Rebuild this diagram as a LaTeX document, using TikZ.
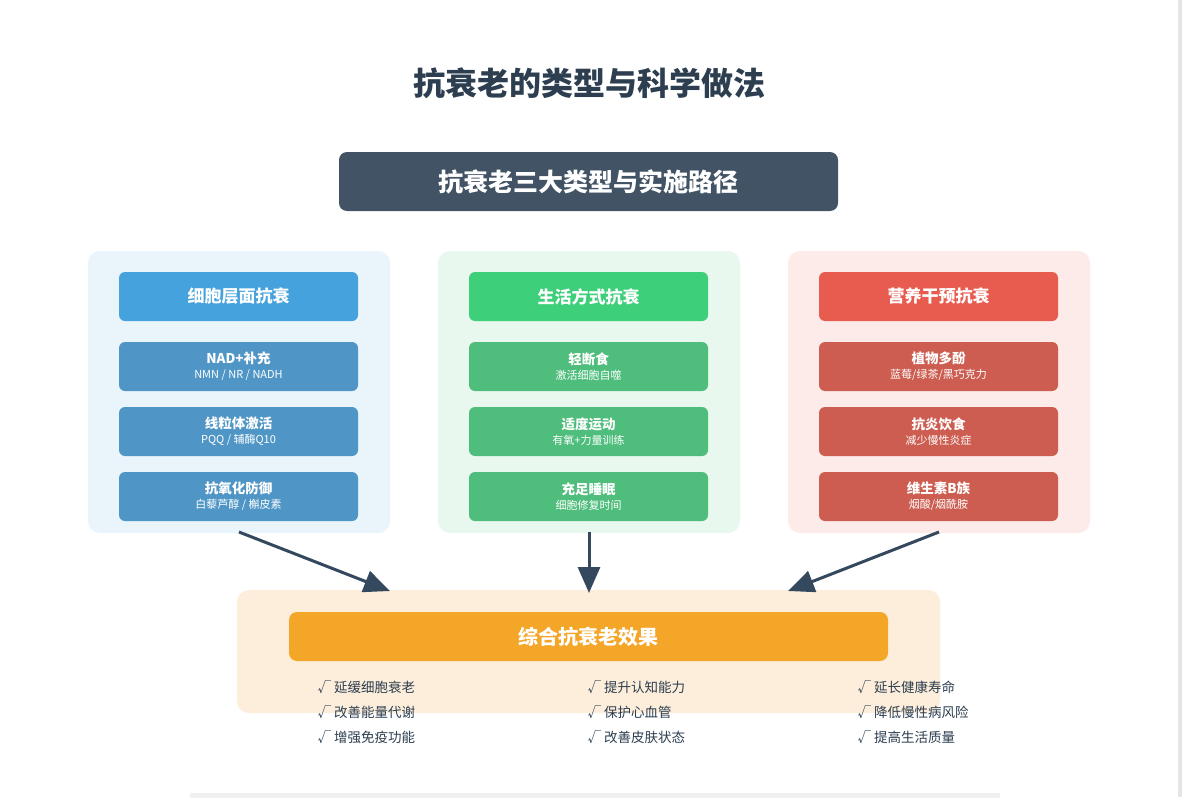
\documentclass[tikz,border=0pt]{standalone}
\usepackage{fontspec}
\setmainfont{Noto Sans CJK SC}
\newfontfamily\cjk{Noto Sans CJK SC}
\usetikzlibrary{arrows.meta,positioning}
\definecolor{inkdark}{HTML}{2C3E50}
\definecolor{slate}{HTML}{415364}
\definecolor{arrowc}{HTML}{34495E}
\definecolor{cellbg}{HTML}{EAF4FB}
\definecolor{lifebg}{HTML}{E8F8EF}
\definecolor{nutrbg}{HTML}{FCEBE9}
\definecolor{cellhd}{HTML}{45A2DD}
\definecolor{lifehd}{HTML}{3ECF7B}
\definecolor{nutrhd}{HTML}{E85C4F}
\definecolor{cellit}{HTML}{4F96C6}
\definecolor{lifeit}{HTML}{4FBD7C}
\definecolor{nutrit}{HTML}{CC5D50}
\definecolor{effbg}{HTML}{FDEEDB}
\definecolor{effhd}{HTML}{F4A628}
\tikzset{
  panel/.style={rounded corners=12pt, draw=none},
  head/.style={rounded corners=6pt, minimum width=239pt, minimum height=49pt,
    text=white, font=\bfseries\fontsize{17}{19}\selectfont},
  item/.style={rounded corners=6pt, minimum width=239pt, minimum height=49pt,
    text=white, align=center, font=\bfseries\fontsize{13.5}{15}\selectfont},
  bullet/.style={anchor=west, text=inkdark, font=\fontsize{13.5}{15}\selectfont},
  flow/.style={draw=arrowc, line width=3pt, -{Triangle[length=26pt,width=22pt]}},
}
\newcommand{\sub}[1]{\\[0pt]{\mdseries\fontsize{11}{12}\selectfont #1}}
\begin{document}
\begin{tikzpicture}[x=1pt,y=-1pt]
  \useasboundingbox (0,0) rectangle (1182,797);
  \fill[white] (0,0) rectangle (1182,797);
  \fill[gray!20] (1176,0) rectangle (1182,797);
  \fill[white,rounded corners=10pt] (-20,-20) rectangle (1178,820);
  \fill[gray!12] (190,793) rectangle (1000,800);
  % title and banner
  \node[text=inkdark, font=\bfseries\fontsize{32}{36}\selectfont] (title) at (589,83) {抗衰老的类型与科学做法};
  \node[fill=slate, rounded corners=8pt, minimum width=499pt, minimum height=59pt,
    text=white, font=\bfseries\fontsize{25}{28}\selectfont] (banner) at (588.5,181.5) {抗衰老三大类型与实施路径};
  % three panels
  \fill[panel, cellbg] (88,251) rectangle (390,533);
  \fill[panel, lifebg] (438,251) rectangle (740,533);
  \fill[panel, nutrbg] (788,251) rectangle (1090,533);
  \node[head, fill=cellhd] (cellH) at (238.5,296.5) {细胞层面抗衰};
  \node[head, fill=lifehd] (lifeH) at (588.5,296.5) {生活方式抗衰};
  \node[head, fill=nutrhd] (nutrH) at (938.5,296.5) {营养干预抗衰};
  \node[item, fill=cellit] (cellA) at (238.5,366.5) {NAD+补充\sub{NMN / NR / NADH}};
  \node[item, fill=cellit] (cellB) at (238.5,431.5) {线粒体激活\sub{PQQ / 辅酶Q10}};
  \node[item, fill=cellit] (cellC) at (238.5,496.5) {抗氧化防御\sub{白藜芦醇 / 槲皮素}};
  \node[item, fill=lifeit] (lifeA) at (588.5,366.5) {轻断食\sub{激活细胞自噬}};
  \node[item, fill=lifeit] (lifeB) at (588.5,431.5) {适度运动\sub{有氧+力量训练}};
  \node[item, fill=lifeit] (lifeC) at (588.5,496.5) {充足睡眠\sub{细胞修复时间}};
  \node[item, fill=nutrit] (nutrA) at (938.5,366.5) {植物多酚\sub{蓝莓/绿茶/黑巧克力}};
  \node[item, fill=nutrit] (nutrB) at (938.5,431.5) {抗炎饮食\sub{减少慢性炎症}};
  \node[item, fill=nutrit] (nutrC) at (938.5,496.5) {维生素B族\sub{烟酸/烟酰胺}};
  % effect panel
  \fill[panel, effbg] (237,590) rectangle (940,713);
  \node[fill=effhd, rounded corners=8pt, minimum width=599pt, minimum height=49pt,
    text=white, font=\bfseries\fontsize{20}{22}\selectfont] (effH) at (588.5,636.5) {综合抗衰老效果};
  \coordinate (cellOut) at (239,532);
  \coordinate (lifeOut) at (589,532);
  \coordinate (nutrOut) at (939,532);
  \coordinate (cellIn) at (390,591);
  \coordinate (lifeIn) at (589,593);
  \coordinate (nutrIn) at (788,591);
  \draw[flow] (cellOut) -- (cellIn);
  \draw[flow] (lifeOut) -- (lifeIn);
  \draw[flow] (nutrOut) -- (nutrIn);
  \node[bullet] (e1) at (314,687) {√ 延缓细胞衰老};
  \node[bullet] (e2) at (314,712) {√ 改善能量代谢};
  \node[bullet] (e3) at (314,737) {√ 增强免疫功能};
  \node[bullet] (e4) at (584,687) {√ 提升认知能力};
  \node[bullet] (e5) at (584,712) {√ 保护心血管};
  \node[bullet] (e6) at (584,737) {√ 改善皮肤状态};
  \node[bullet] (e7) at (854,687) {√ 延长健康寿命};
  \node[bullet] (e8) at (854,712) {√ 降低慢性病风险};
  \node[bullet] (e9) at (854,737) {√ 提高生活质量};
\end{tikzpicture}
\end{document}
